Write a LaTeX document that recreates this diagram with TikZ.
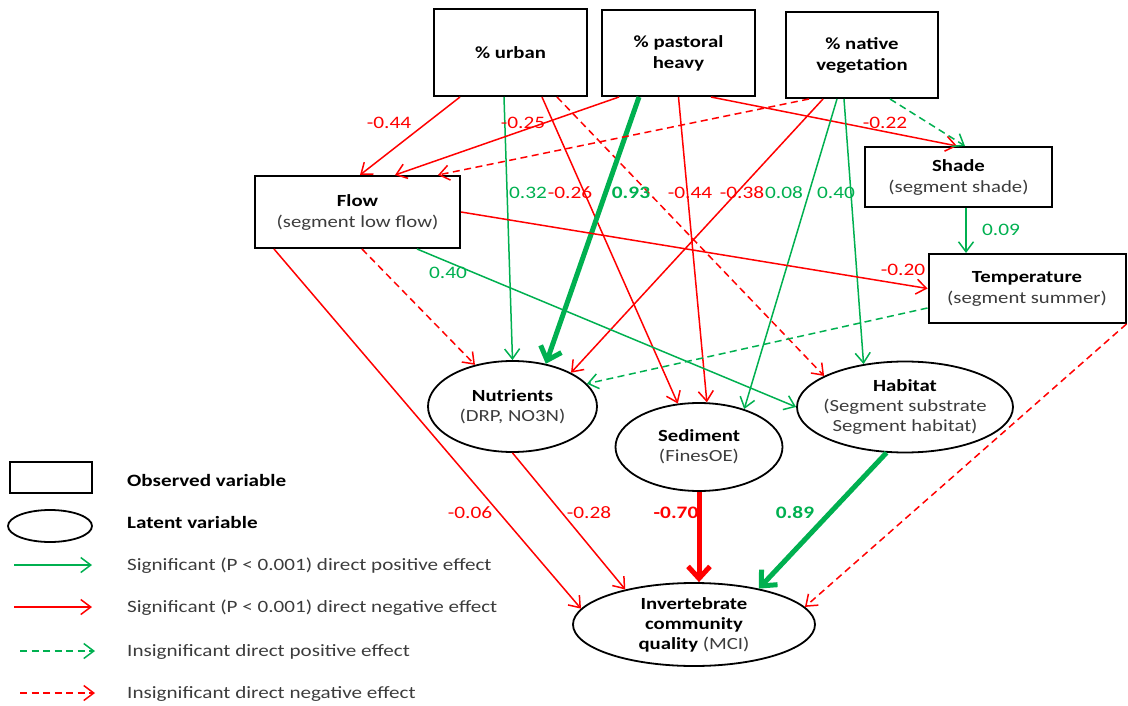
\documentclass[tikz,border=0pt]{standalone}
\usepackage{fontspec}
\setmainfont{Carlito}[FakeStretch=1.22]
\usetikzlibrary{arrows.meta,shapes.geometric,calc}
\definecolor{cred}{RGB}{255,0,0}
\definecolor{cgreen}{RGB}{0,176,80}
\definecolor{ctext}{RGB}{60,60,60}
\newcommand\subtxt[1]{{\color{ctext}#1}}
\tikzset{
  obsbox/.style={draw=black, line width=2pt, rectangle, align=center, inner sep=0pt, font=\fontsize{17}{21}\selectfont},
  latell/.style={draw=black, line width=1.8pt, ellipse, align=center, inner sep=0pt, font=\fontsize{17}{20}\selectfont},
  effpos/.style={cgreen, line width=1.5pt, -{Straight Barb[length=10pt,width=15pt]}},
  effneg/.style={cred, line width=1.5pt, -{Straight Barb[length=10pt,width=15pt]}},
  effins/.style={dash pattern=on 7pt off 4.5pt},
  effbig/.style={line width=5pt, -{Straight Barb[length=12pt,width=22pt]}},
  efflbl/.style={font=\fontsize{17.5}{19}\selectfont, inner sep=0pt, anchor=base},
  effbold/.style={font=\fontsize{17.5}{19}\selectfont\bfseries},
  legtxt/.style={font=\fontsize{17.3}{20}\selectfont, inner sep=0pt, anchor=base west, text=ctext},
}
\begin{document}
\begin{tikzpicture}[x=1pt,y=-1pt]
\useasboundingbox (0,0) rectangle (1128,706);

% observed variables
\node[obsbox, minimum width=153pt, minimum height=87pt] (urban) at (510.5,52.5) {\textbf{\% urban}};
\node[obsbox, minimum width=153pt, minimum height=86pt] (past) at (678.5,53) {\textbf{\% pastoral}\\\textbf{heavy}};
\node[obsbox, minimum width=152pt, minimum height=86pt] (nat) at (862,55) {\textbf{\% native}\\\textbf{vegetation}};
\node[obsbox, minimum width=187pt, minimum height=60pt] (shade) at (958.5,177) {\textbf{Shade}\\\subtxt{(segment shade)}};
\node[obsbox, minimum width=205pt, minimum height=72pt] (flow) at (357.5,212) {\textbf{Flow}\\\subtxt{(segment low flow)}};
\node[obsbox, minimum width=197pt, minimum height=69pt] (temp) at (1027,288.5) {\textbf{Temperature}\\\subtxt{(segment summer)}};

% latent variables
\node[latell, minimum width=169pt, minimum height=91pt] (nut) at (512.5,406.5) {\textbf{Nutrients}\\\subtxt{(DRP, NO3N)}};
\node[latell, minimum width=167pt, minimum height=88pt] (sed) at (699,447) {\textbf{Sediment}\\\subtxt{(FinesOE)}};
\node[latell, minimum width=216pt, minimum height=91pt, inner xsep=-6pt] (hab) at (905,407) {\textbf{Habitat}\\\subtxt{(Segment substrate}\\\subtxt{Segment habitat)}};
\node[latell, minimum width=242pt, minimum height=83pt] (inv) at (694,624.5) {\textbf{Invertebrate}\\\textbf{community}\\\textbf{quality} \subtxt{(MCI)}};

% edges from % urban
\draw[effneg] ([xshift=-50.5pt]urban.south) -- ([xshift=2.5pt]flow.north);
\draw[effpos] ([xshift=-6.5pt]urban.south) -- (nut.90);
\draw[effneg] ([xshift=31.5pt]urban.south) -- (sed.116);
\draw[effneg,effins] ([xshift=46.5pt]urban.south) -- (hab.159);
% edges from % pastoral heavy
\draw[effneg] ([xshift=-59.5pt]past.south) -- ([xshift=37.5pt]flow.north);
\draw[effpos,effbig] ([xshift=-39.5pt]past.south) -- (nut.52);
\draw[effneg] (past.south) -- (sed.80);
\draw[effneg] ([xshift=32.5pt]past.south) -- ([xshift=-1.5pt]shade.north);
% edges from % native vegetation
\draw[effneg,effins] ([xshift=-53pt]nat.south) -- ([xshift=80.5pt]flow.north);
\draw[effneg] ([xshift=-39pt]nat.south) -- (nut.30);
\draw[effpos] ([xshift=-25pt]nat.south) -- (sed.40);
\draw[effpos] ([xshift=-18pt]nat.south) -- (hab.134);
\draw[effpos,effins] ([xshift=28pt]nat.south) -- ([xshift=6.5pt]shade.north);
% shade
\draw[effpos] ([xshift=7.5pt]shade.south) -- ([xshift=-61pt]temp.north);
% flow
\draw[effneg] (flow.east) -- (temp.west);
\draw[effneg,effins] ([xshift=4.5pt]flow.south) -- (nut.132);
\draw[effpos] ([xshift=59.5pt]flow.south) -- (hab.180);
\draw[effneg] ([xshift=-83.5pt]flow.south) -- (inv.172);
% temperature
\draw[effpos,effins] ([yshift=-19.5pt]temp.west) -- (nut.17);
\draw[effneg,effins] (temp.south east) -- (inv.9);
% latent to invertebrate
\draw[effneg] (nut.south) -- (inv.153);
\draw[effneg,effbig] (sed.south) -- ([xshift=5pt]inv.north);
\draw[effpos,effbig] (hab.248) -- (inv.29);

% labels
\node[efflbl, text=cred] (l1) at (389,129) {-0.44};
\node[efflbl, text=cred] (l2) at (523,129) {-0.25};
\node[efflbl, text=cgreen] (l3) at (528,199) {0.32};
\node[efflbl, text=cred] (l4) at (570,199) {-0.26};
\node[efflbl, effbold, text=cgreen] (l5) at (631,199) {0.93};
\node[efflbl, text=cred] (l6) at (690,199) {-0.44};
\node[efflbl, text=cred] (l7) at (742,199) {-0.38};
\node[efflbl, text=cgreen] (l8) at (784,199) {0.08};
\node[efflbl, text=cgreen] (l9) at (836,199) {0.40};
\node[efflbl, text=cred] (l10) at (885,129) {-0.22};
\node[efflbl, text=cgreen] (l11) at (1001,236) {0.09};
\node[efflbl, text=cred] (l12) at (903,275) {-0.20};
\node[efflbl, text=cgreen] (l13) at (448,278) {0.40};
\node[efflbl, text=cred] (l14) at (470,518) {-0.06};
\node[efflbl, text=cred] (l15) at (589,518) {-0.28};
\node[efflbl, effbold, text=cred] (l16) at (676,518) {-0.70};
\node[efflbl, effbold, text=cgreen] (l17) at (795,518) {0.89};

% legend
\node[draw, line width=2pt, minimum width=82pt, minimum height=31pt, inner sep=0pt] (legobs) at (51,477.5) {};
\node[draw, ellipse, line width=1.8pt, minimum width=84pt, minimum height=32pt, inner sep=0pt] (leglat) at (50,526) {};
\coordinate (a1s) at (14,565); \coordinate (a1e) at (92,565);
\coordinate (a2s) at (14,607); \coordinate (a2e) at (92,607);
\coordinate (a3s) at (20,651); \coordinate (a3e) at (95,651);
\coordinate (a4s) at (20,693); \coordinate (a4e) at (95,693);
\draw[effpos] (a1s) -- (a1e);
\draw[effneg] (a2s) -- (a2e);
\draw[effpos,effins] (a3s) -- (a3e);
\draw[effneg,effins] (a4s) -- (a4e);
\node[legtxt, text=black] (t1) at (127,486.5) {\textbf{Observed variable}};
\node[legtxt, text=black] (t2) at (127,528.5) {\textbf{Latent variable}};
\node[legtxt] (t3) at (127,570.5) {Significant (P < 0.001) direct positive effect};
\node[legtxt] (t4) at (127,612.5) {Significant (P < 0.001) direct negative effect};
\node[legtxt] (t5) at (127,656.5) {Insignificant direct positive effect};
\node[legtxt] (t6) at (127,698.5) {Insignificant direct negative effect};
\end{tikzpicture}
\end{document}
